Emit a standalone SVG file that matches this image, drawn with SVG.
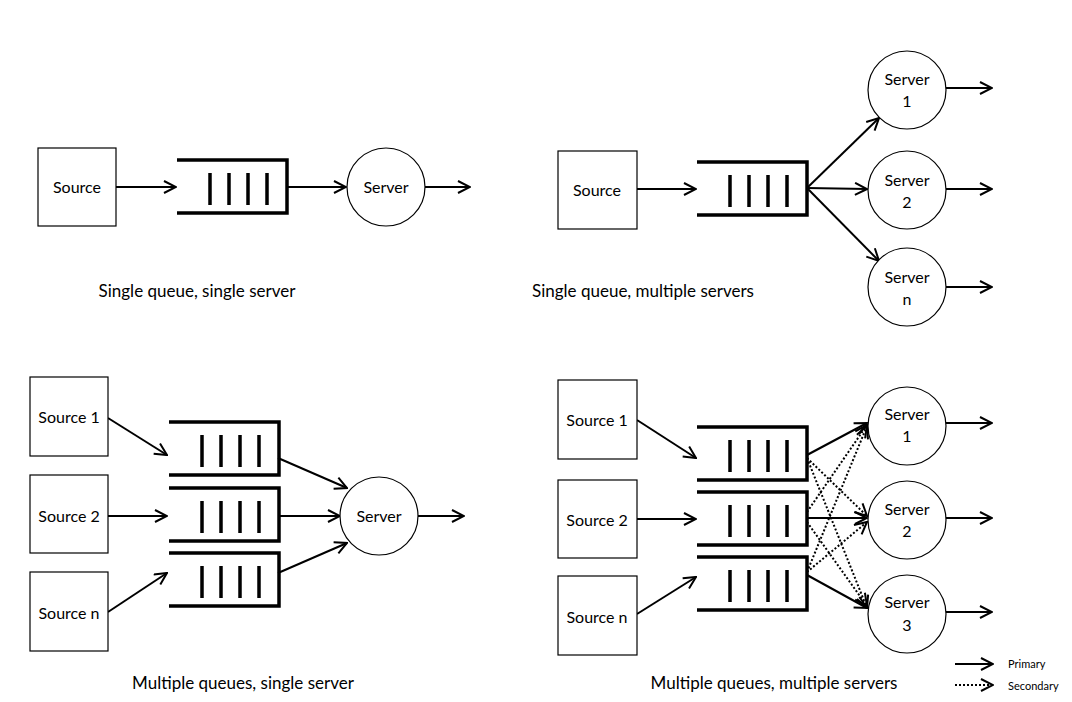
<svg xmlns="http://www.w3.org/2000/svg" width="1072" height="702" viewBox="0 0 1072 702">
<style>
text{font-family:Lato,"Open Sans",sans-serif;font-size:16px;fill:#000;text-anchor:middle}
.lab{font-size:17px}
.box{fill:#fff;stroke:#000;stroke-width:1.2}
.q{fill:none;stroke:#000;stroke-width:3.5}
.bar{stroke:#000;stroke-width:3.5}
.c{fill:#fff;stroke:#000;stroke-width:1.2}
.a{stroke:#000;stroke-width:2;fill:none;marker-end:url(#ah)}
.d{stroke:#000;stroke-width:2;fill:none;stroke-dasharray:2 2;marker-end:url(#ah)}
.lg{font-size:11px;text-anchor:start}
</style>
<defs>
<marker id="ah" viewBox="0 0 14 14" refX="13" refY="7" markerWidth="14" markerHeight="14" markerUnits="userSpaceOnUse" orient="auto"><path d="M1,1 L13,7 L1,13" fill="none" stroke="#000" stroke-width="2"/></marker>
<g id="queue"><path class="q" d="M0,0 H110 V53 H0"/><path class="bar" d="M33,13V45M52,13V45M71,13V45M90,13V45"/></g>
</defs>
<g id="connectors">
<path class="a" d="M116,187 H176"/><path class="a" d="M287,187 H346"/><path class="a" d="M425,187 H470"/>
<path class="a" d="M637,189 H696"/><path class="a" d="M807,188 L879,118"/><path class="a" d="M807,188 L867,189"/><path class="a" d="M807,188 L879,261"/>
<path class="a" d="M946,88 H992"/><path class="a" d="M946,189 H992"/><path class="a" d="M946,287 H992"/>
<path class="a" d="M108,418 L167,455"/><path class="a" d="M108,516 H167"/><path class="a" d="M108,612 L167,573"/>
<path class="a" d="M278,458 L347,488"/><path class="a" d="M278,516 H340"/><path class="a" d="M278,573 L347,543"/><path class="a" d="M418,516 H464"/>
<path class="a" d="M637,420 L696,458"/><path class="a" d="M637,519 H696"/><path class="a" d="M637,614 L696,577"/>
<path class="a" d="M807,455 L867,423"/><path class="a" d="M807,518 L867,518"/><path class="a" d="M807,575 L867,608"/>
<path class="d" d="M807,458 L867,516"/><path class="d" d="M807,458 L867,608"/>
<path class="d" d="M807,512 L867,425"/><path class="d" d="M807,522 L867,606"/>
<path class="d" d="M807,572 L867,426"/><path class="d" d="M807,572 L867,522"/>
<path class="a" d="M946,423 H992"/><path class="a" d="M946,518 H992"/><path class="a" d="M946,612 H992"/>
<path class="a" d="M955,664 H993"/><path class="d" d="M955,685 H993"/>
</g>
<g id="src1"><rect class="box" x="38" y="148" width="78" height="78"/><text x="77" y="193">Source</text></g>
<g id="q1"><use href="#queue" x="177" y="160"/></g>
<g id="srv1"><circle class="c" cx="386" cy="187" r="39"/><text x="386" y="193">Server</text></g>
<g id="src2"><rect class="box" x="558" y="151" width="79" height="78"/><text x="597" y="196">Source</text></g>
<g id="q2"><use href="#queue" x="697" y="162"/></g>
<g id="s21"><circle class="c" cx="907" cy="90" r="39"/><text x="907" y="85">Server</text><text x="907" y="107">1</text></g>
<g id="s22"><circle class="c" cx="907" cy="190" r="39"/><text x="907" y="186">Server</text><text x="907" y="208">2</text></g>
<g id="s2n"><circle class="c" cx="907" cy="287" r="39"/><text x="907" y="283">Server</text><text x="907" y="305">n</text></g>
<g id="src31"><rect class="box" x="30" y="377" width="78" height="79"/><text x="69" y="423">Source 1</text></g>
<g id="src32"><rect class="box" x="30" y="475" width="78" height="78"/><text x="69" y="522">Source 2</text></g>
<g id="src3n"><rect class="box" x="30" y="572" width="78" height="79"/><text x="69" y="619">Source n</text></g>
<g id="q31"><use href="#queue" x="169" y="422"/></g>
<g id="q32"><use href="#queue" x="169" y="488"/></g>
<g id="q3n"><use href="#queue" x="169" y="553"/></g>
<g id="srv3"><circle class="c" cx="379" cy="516" r="39"/><text x="379" y="522">Server</text></g>
<g id="src41"><rect class="box" x="558" y="380" width="79" height="79"/><text x="597" y="426">Source 1</text></g>
<g id="src42"><rect class="box" x="558" y="480" width="79" height="78"/><text x="597" y="526">Source 2</text></g>
<g id="src4n"><rect class="box" x="558" y="576" width="79" height="79"/><text x="597" y="623">Source n</text></g>
<g id="q41"><use href="#queue" x="697" y="427"/></g>
<g id="q42"><use href="#queue" x="697" y="492"/></g>
<g id="q4n"><use href="#queue" x="697" y="557"/></g>
<g id="s41"><circle class="c" cx="907" cy="426" r="39"/><text x="907" y="420">Server</text><text x="907" y="442">1</text></g>
<g id="s42"><circle class="c" cx="907" cy="520" r="39"/><text x="907" y="515">Server</text><text x="907" y="537">2</text></g>
<g id="s43"><circle class="c" cx="907" cy="614" r="39"/><text x="907" y="608">Server</text><text x="907" y="631">3</text></g>
<g id="labels">
<text class="lab" x="197" y="297">Single queue, single server</text>
<text class="lab" x="643" y="297">Single queue, multiple servers</text>
<text class="lab" x="243" y="689">Multiple queues, single server</text>
<text class="lab" x="774" y="689">Multiple queues, multiple servers</text>
<text class="lg" x="1008" y="668">Primary</text>
<text class="lg" x="1008" y="690">Secondary</text>
</g>
</svg>
